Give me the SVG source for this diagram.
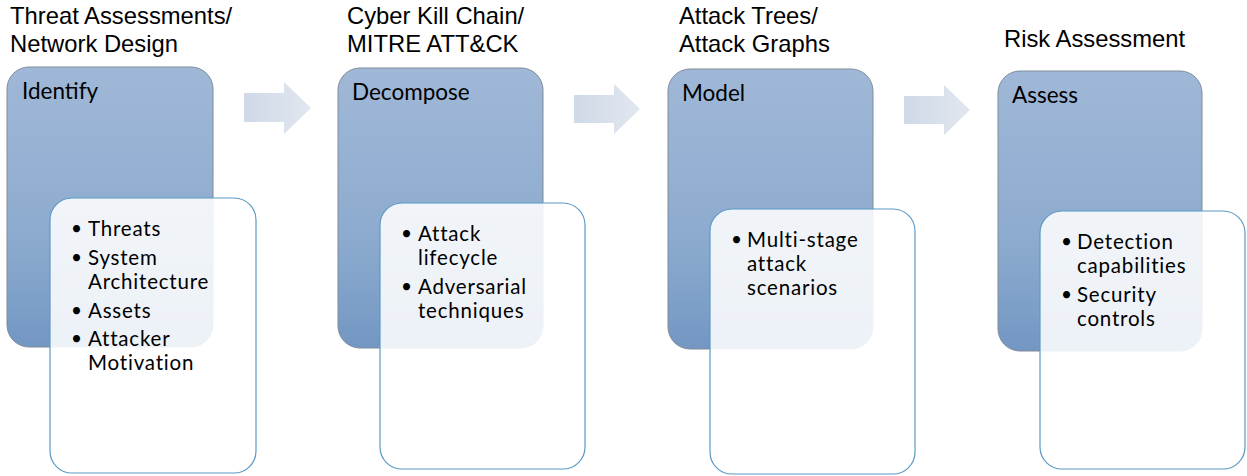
<svg xmlns="http://www.w3.org/2000/svg" width="1247" height="476" viewBox="0 0 1247 476">
<defs>
<linearGradient id="dg" x1="0" y1="0" x2="0" y2="1"><stop offset="0" stop-color="#a0b8d7"/><stop offset="0.6" stop-color="#8dabcf"/><stop offset="1" stop-color="#7397c3"/></linearGradient>
<linearGradient id="ag" x1="0" y1="0" x2="1" y2="0"><stop offset="0" stop-color="#cfd9e7"/><stop offset="1" stop-color="#e1e7ef"/></linearGradient>
<style>
.dark{fill:url(#dg);stroke:#808b99;stroke-width:1}
.light{fill:#ffffff;fill-opacity:0.87;stroke:#5b9ac4;stroke-width:1.2}
.title{font-family:"Liberation Sans",Arial,sans-serif;font-size:23.8px;fill:#000}
.head{font-family:Lato,"Open Sans",sans-serif;font-size:22.5px;fill:#000}
.item{font-family:Lato,"Open Sans",sans-serif;font-size:20.5px;letter-spacing:0.8px;fill:#000}
.dot{font-family:Lato,"Open Sans",sans-serif;font-size:19px;fill:#000}
.arrow{fill:url(#ag)}
</style>
</defs>
<rect width="1247" height="476" fill="#fff"/>
<g id="connectors">
<polygon class="arrow" points="244,93 284,93 284,82 311,108 284,134 284,122 244,122"/>
<polygon class="arrow" points="574,95 614,95 614,84 640,109 614,134 614,123 574,123"/>
<polygon class="arrow" points="904,96 944,96 944,85 970,110 944,135 944,124 904,124"/>
</g>
<g id="stage1">
<text class="title" x="10" y="24">Threat Assessments/</text>
<text class="title" x="10" y="52">Network Design</text>
<rect class="dark" x="7" y="67" width="206" height="280" rx="22"/>
<text class="head" x="22" y="99">Identify</text>
<rect class="light" x="50" y="198" width="206" height="275" rx="22"/>
<text class="dot" x="71" y="235">•</text><text class="item" x="88" y="236">Threats</text>
<text class="dot" x="71" y="264">•</text><text class="item" x="88" y="265">System</text>
<text class="item" x="88" y="289">Architecture</text>
<text class="dot" x="71" y="317">•</text><text class="item" x="88" y="318">Assets</text>
<text class="dot" x="71" y="345">•</text><text class="item" x="88" y="346">Attacker</text>
<text class="item" x="88" y="370">Motivation</text>
</g>
<g id="stage2">
<text class="title" x="347" y="24">Cyber Kill Chain/</text>
<text class="title" x="347" y="52">MITRE ATT&amp;CK</text>
<rect class="dark" x="338" y="68" width="205" height="280" rx="22"/>
<text class="head" x="352" y="100">Decompose</text>
<rect class="light" x="380" y="203" width="205" height="266" rx="22"/>
<text class="dot" x="401" y="240">•</text><text class="item" x="418" y="241">Attack</text>
<text class="item" x="418" y="265">lifecycle</text>
<text class="dot" x="401" y="293">•</text><text class="item" x="418" y="294">Adversarial</text>
<text class="item" x="418" y="318">techniques</text>
</g>
<g id="stage3">
<text class="title" x="679" y="24">Attack Trees/</text>
<text class="title" x="679" y="52">Attack Graphs</text>
<rect class="dark" x="668" y="69" width="205" height="280" rx="22"/>
<text class="head" x="682" y="101">Model</text>
<rect class="light" x="710" y="209" width="205" height="265" rx="22"/>
<text class="dot" x="731" y="246">•</text><text class="item" x="747" y="247">Multi-stage</text>
<text class="item" x="747" y="271">attack</text>
<text class="item" x="747" y="295">scenarios</text>
</g>
<g id="stage4">
<text class="title" x="1004" y="47">Risk Assessment</text>
<rect class="dark" x="998" y="71" width="204" height="280" rx="22"/>
<text class="head" x="1012" y="103">Assess</text>
<rect class="light" x="1040" y="211" width="205" height="258" rx="22"/>
<text class="dot" x="1061" y="248">•</text><text class="item" x="1077" y="249">Detection</text>
<text class="item" x="1077" y="273">capabilities</text>
<text class="dot" x="1061" y="301">•</text><text class="item" x="1077" y="302">Security</text>
<text class="item" x="1077" y="326">controls</text>
</g>
</svg>
